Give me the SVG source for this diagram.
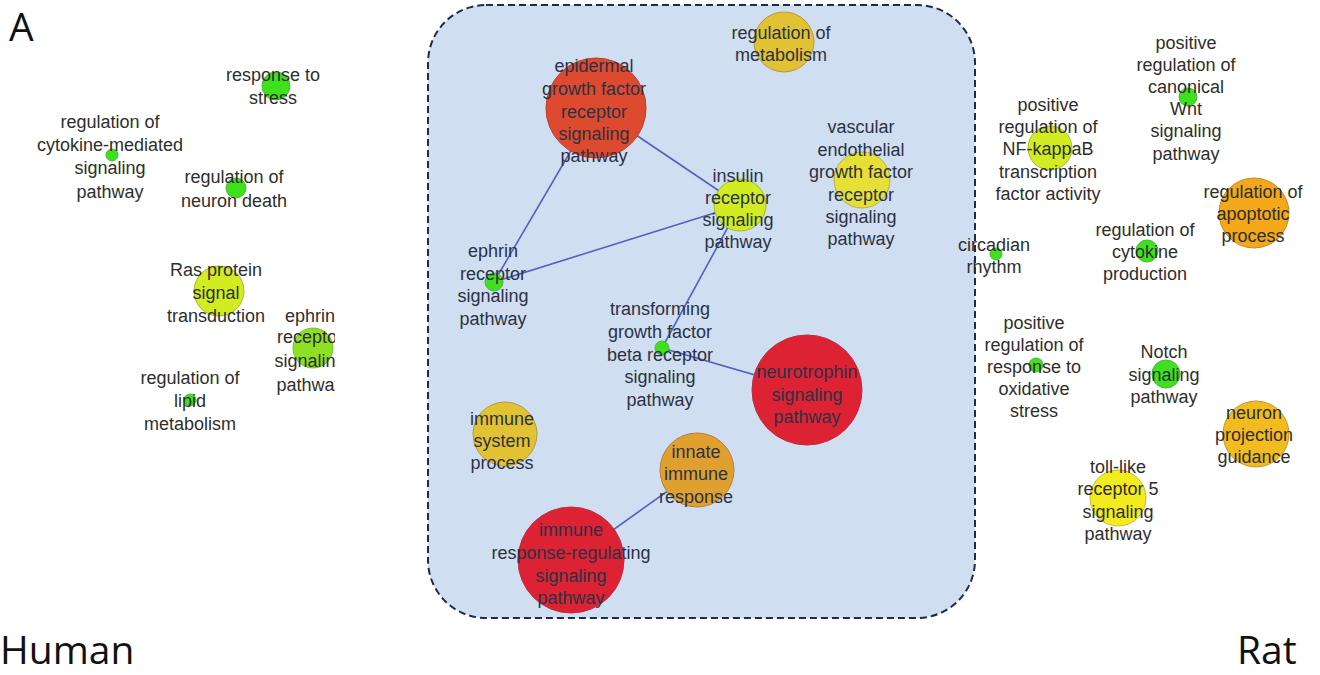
<svg xmlns="http://www.w3.org/2000/svg" width="1320" height="675" viewBox="0 0 1320 675">
<style>
.t{font-family:"Liberation Sans",Arial,sans-serif;font-size:18px;fill:#2e2e2e;text-anchor:middle}
.ti{font-family:"Liberation Sans",Arial,sans-serif;font-size:18px;fill:#2b3244;text-anchor:middle}
.big{font-family:"Open Sans","Liberation Sans",sans-serif;font-size:39px;fill:#111}
.e{stroke:#5560c0;stroke-width:1.6;fill:none}
.g{fill:#3fe01c;stroke:#4cb83a;stroke-width:1}
.yg{fill:#d2ec22;stroke:#a8b830;stroke-width:1}
.lg{fill:#8ee022;stroke:#78b83a;stroke-width:1}
.mus{fill:#e0c232;stroke:#b89a40;stroke-width:1}
.yel{fill:#e6e036;stroke:#b8b040;stroke-width:1}
.yel2{fill:#f2ec1e;stroke:#c0b840;stroke-width:1}
.ro{fill:#de4a2f;stroke:#b84030;stroke-width:1}
.red{fill:#dd2233;stroke:#b83040;stroke-width:1}
.or{fill:#e0a030;stroke:#b88040;stroke-width:1}
.or2{fill:#f2a818;stroke:#c08830;stroke-width:1}
.or3{fill:#f2bc1e;stroke:#c09830;stroke-width:1}
</style>
<defs>
<clipPath id="cl"><rect x="0" y="0" width="335" height="675"/></clipPath>
</defs>
<rect width="1320" height="675" fill="#fff"/>
<text class="big" x="9" y="41" font-size="37">A</text>
<text class="big" x="0" y="664">Human</text>
<text class="big" x="1237" y="664">Rat</text>

<rect id="shared" x="428" y="5" width="547" height="613" rx="58" ry="58" fill="#cfdef0" stroke="#1e2c4c" stroke-width="2" stroke-dasharray="7,4"/>

<g id="connectors">
<line class="e" x1="596" y1="108" x2="494" y2="282"/>
<line class="e" x1="596" y1="108" x2="740" y2="205"/>
<line class="e" x1="494" y1="282" x2="740" y2="205"/>
<line class="e" x1="740" y1="205" x2="662" y2="348"/>
<line class="e" x1="662" y1="348" x2="807" y2="390"/>
<line class="e" x1="697" y1="470" x2="571" y2="560"/>
</g>

<!-- Human -->
<g id="h-response-stress"><circle class="g" cx="276" cy="86" r="14"/><text class="t" x="273" y="81">response to</text><text class="t" x="273" y="104">stress</text></g>
<g id="h-cytokine-mediated"><circle class="g" cx="112" cy="155" r="6"/><text class="t" x="110" y="128">regulation of</text><text class="t" x="110" y="151">cytokine-mediated</text><text class="t" x="110" y="174">signaling</text><text class="t" x="110" y="198">pathway</text></g>
<g id="h-neuron-death"><circle class="g" cx="236" cy="188" r="10"/><text class="t" x="234" y="183">regulation of</text><text class="t" x="234" y="207">neuron death</text></g>
<g id="h-ras"><circle class="yg" cx="219" cy="291" r="25"/><text class="t" x="216" y="276">Ras protein</text><text class="t" x="216" y="299">signal</text><text class="t" x="216" y="322">transduction</text></g>
<g id="h-ephrin" clip-path="url(#cl)"><circle class="lg" cx="313" cy="348" r="20"/><text class="t" x="310" y="322">ephrin</text><text class="t" x="310" y="343">receptor</text><text class="t" x="310" y="367">signaling</text><text class="t" x="310" y="391">pathway</text></g>
<g id="h-lipid"><circle class="g" cx="190" cy="400" r="6"/><text class="t" x="190" y="384">regulation of</text><text class="t" x="190" y="407">lipid</text><text class="t" x="190" y="430">metabolism</text></g>

<!-- Shared -->
<g id="s-metabolism"><circle class="mus" cx="784" cy="42" r="30"/><text class="ti" x="781" y="39">regulation of</text><text class="ti" x="781" y="61">metabolism</text></g>
<g id="s-egf"><circle class="ro" cx="596" cy="108" r="50"/><text class="ti" x="594" y="72">epidermal</text><text class="ti" x="594" y="95">growth factor</text><text class="ti" x="594" y="118">receptor</text><text class="ti" x="594" y="140">signaling</text><text class="ti" x="594" y="162">pathway</text></g>
<g id="s-vegf"><circle class="yel" cx="862" cy="180" r="28"/><text class="ti" x="861" y="133">vascular</text><text class="ti" x="861" y="156">endothelial</text><text class="ti" x="861" y="178">growth factor</text><text class="ti" x="861" y="201">receptor</text><text class="ti" x="861" y="223">signaling</text><text class="ti" x="861" y="245">pathway</text></g>
<g id="s-insulin"><circle class="yg" cx="740" cy="205" r="26"/><text class="ti" x="738" y="182">insulin</text><text class="ti" x="738" y="204">receptor</text><text class="ti" x="738" y="226">signaling</text><text class="ti" x="738" y="248">pathway</text></g>
<g id="s-ephrin"><circle class="g" cx="494" cy="282" r="9"/><text class="ti" x="493" y="257">ephrin</text><text class="ti" x="493" y="280">receptor</text><text class="ti" x="493" y="302">signaling</text><text class="ti" x="493" y="325">pathway</text></g>
<g id="s-tgfb"><circle class="g" cx="662" cy="348" r="7"/><text class="ti" x="660" y="315">transforming</text><text class="ti" x="660" y="338">growth factor</text><text class="ti" x="660" y="361">beta receptor</text><text class="ti" x="660" y="383">signaling</text><text class="ti" x="660" y="406">pathway</text></g>
<g id="s-neurotrophin"><circle class="red" cx="807" cy="390" r="55"/><text class="ti" x="807" y="378">neurotrophin</text><text class="ti" x="807" y="401">signaling</text><text class="ti" x="807" y="423">pathway</text></g>
<g id="s-immune-system"><circle class="mus" cx="505" cy="434" r="32"/><text class="ti" x="502" y="425">immune</text><text class="ti" x="502" y="447">system</text><text class="ti" x="502" y="469">process</text></g>
<g id="s-innate"><circle class="or" cx="697" cy="470" r="37"/><text class="ti" x="696" y="458">innate</text><text class="ti" x="696" y="480">immune</text><text class="ti" x="696" y="503">response</text></g>
<g id="s-immune-regulating"><circle class="red" cx="571" cy="560" r="53"/><text class="ti" x="571" y="536">immune</text><text class="ti" x="571" y="559">response-regulating</text><text class="ti" x="571" y="582">signaling</text><text class="ti" x="571" y="604">pathway</text></g>

<!-- Rat -->
<g id="r-nfkb"><circle class="yg" cx="1050" cy="148" r="22"/><text class="t" x="1048" y="111">positive</text><text class="t" x="1048" y="133">regulation of</text><text class="t" x="1048" y="155">NF-kappaB</text><text class="t" x="1048" y="178">transcription</text><text class="t" x="1048" y="200">factor activity</text></g>
<g id="r-wnt"><circle class="g" cx="1188" cy="97" r="9"/><text class="t" x="1186" y="49">positive</text><text class="t" x="1186" y="71">regulation of</text><text class="t" x="1186" y="93">canonical</text><text class="t" x="1186" y="115">Wnt</text><text class="t" x="1186" y="137">signaling</text><text class="t" x="1186" y="160">pathway</text></g>
<g id="r-apoptotic"><circle class="or2" cx="1254" cy="213" r="35"/><text class="t" x="1253" y="198">regulation of</text><text class="t" x="1253" y="220">apoptotic</text><text class="t" x="1253" y="242">process</text></g>
<g id="r-circadian"><circle class="g" cx="996" cy="254" r="6"/><text class="t" x="994" y="251">circadian</text><text class="t" x="994" y="273">rhythm</text></g>
<g id="r-cytokine"><circle class="g" cx="1147" cy="251" r="11"/><text class="t" x="1145" y="236">regulation of</text><text class="t" x="1145" y="258">cytokine</text><text class="t" x="1145" y="280">production</text></g>
<g id="r-oxidative"><circle class="g" cx="1036" cy="365" r="7"/><text class="t" x="1034" y="329">positive</text><text class="t" x="1034" y="351">regulation of</text><text class="t" x="1034" y="373">response to</text><text class="t" x="1034" y="395">oxidative</text><text class="t" x="1034" y="417">stress</text></g>
<g id="r-notch"><circle class="g" cx="1166" cy="374" r="14"/><text class="t" x="1164" y="358">Notch</text><text class="t" x="1164" y="381">signaling</text><text class="t" x="1164" y="403">pathway</text></g>
<g id="r-neuron-projection"><circle class="or3" cx="1256" cy="434" r="33"/><text class="t" x="1254" y="419">neuron</text><text class="t" x="1254" y="441">projection</text><text class="t" x="1254" y="463">guidance</text></g>
<g id="r-tlr5"><circle class="yel2" cx="1118" cy="498" r="28"/><text class="t" x="1118" y="473">toll-like</text><text class="t" x="1118" y="495">receptor 5</text><text class="t" x="1118" y="518">signaling</text><text class="t" x="1118" y="540">pathway</text></g>
</svg>
